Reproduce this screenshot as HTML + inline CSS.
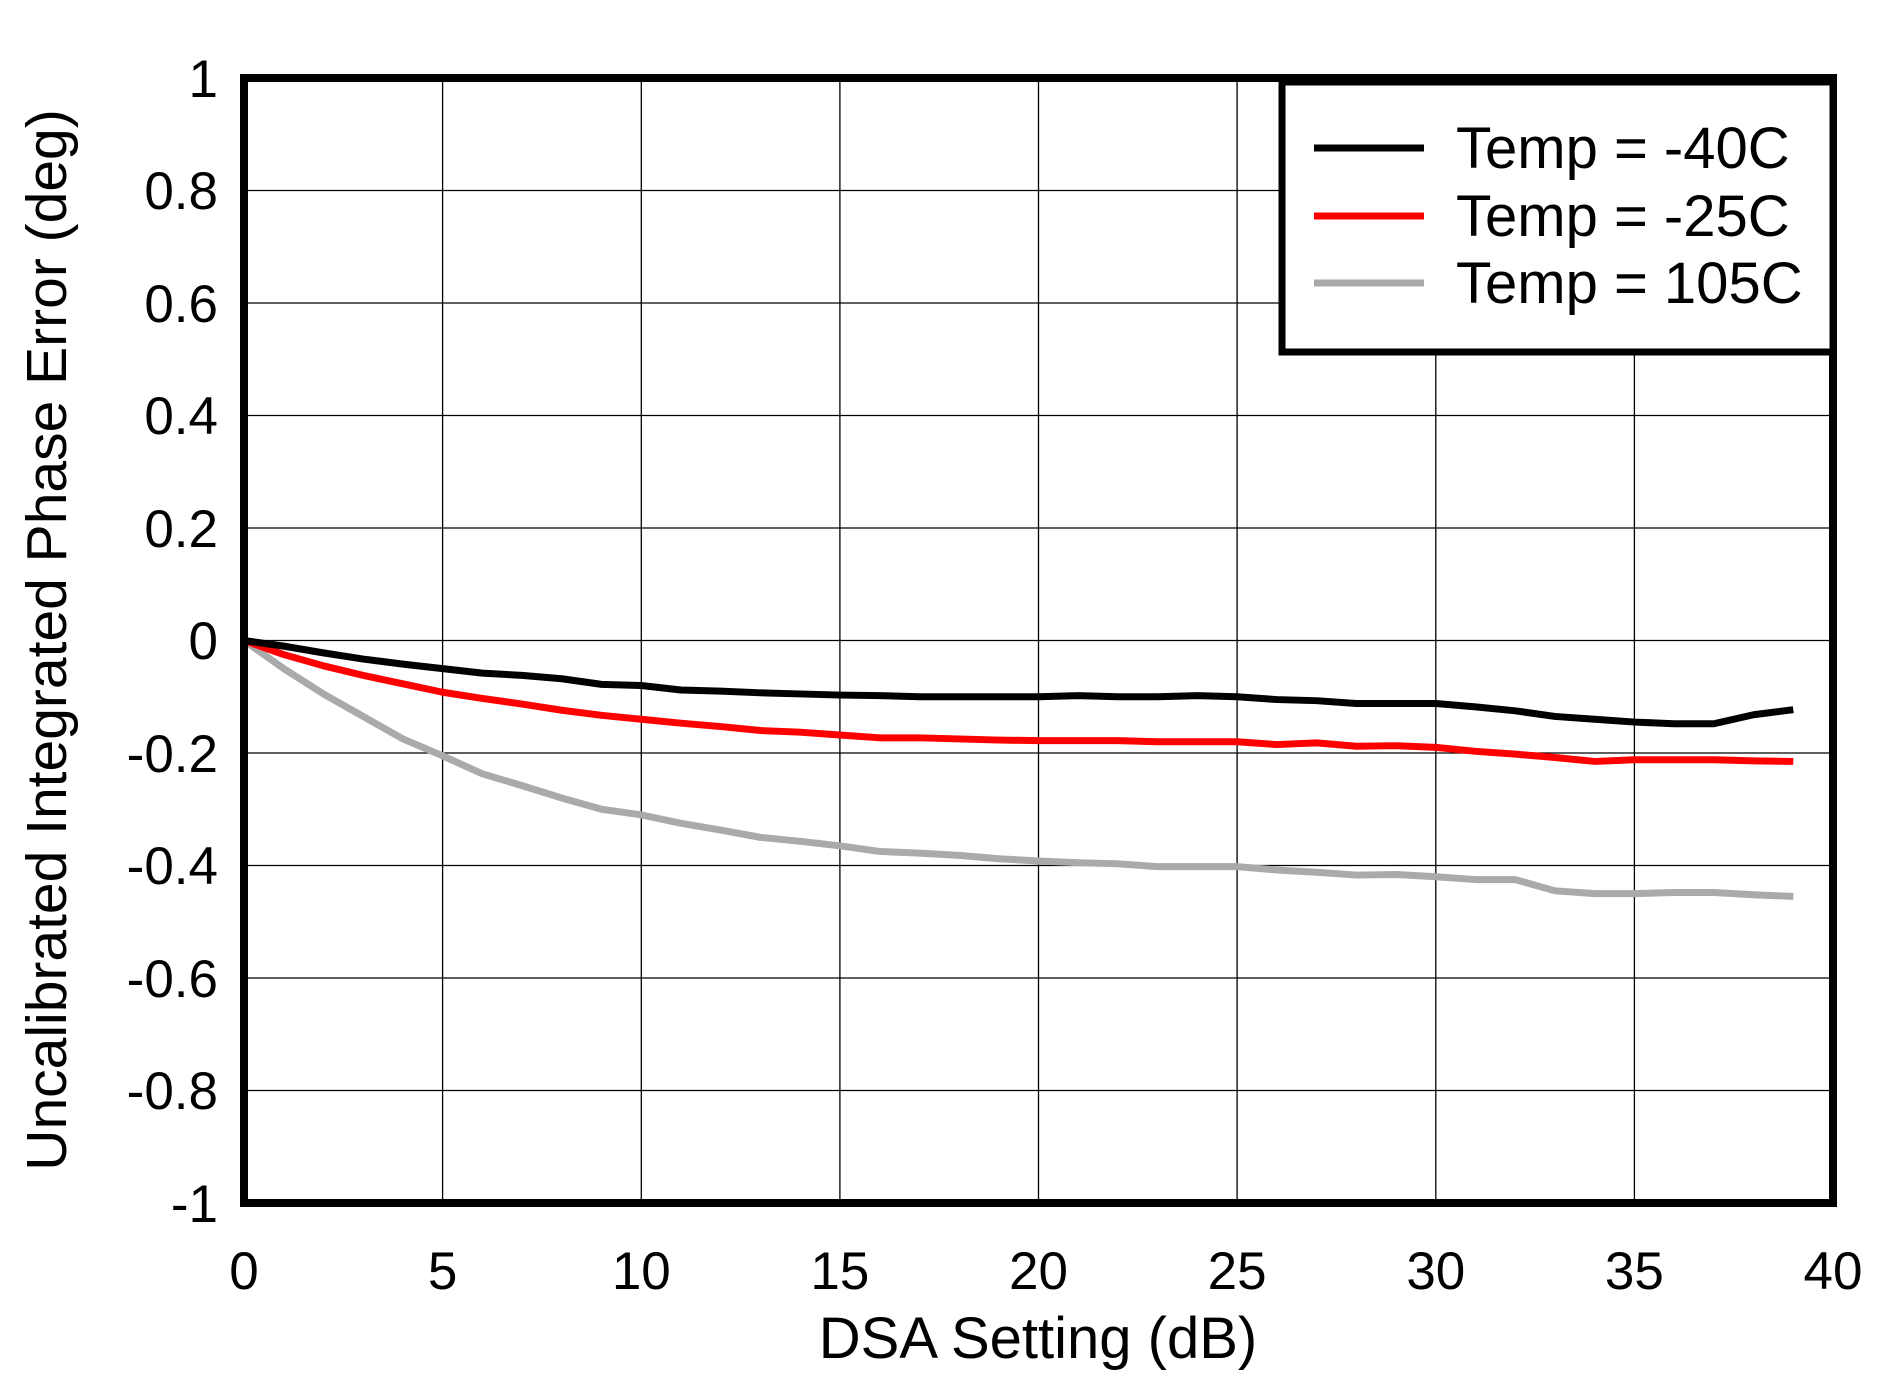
<!DOCTYPE html>
<html><head><meta charset="utf-8"><style>body{margin:0;background:#fff}svg{display:block}</style></head>
<body>
<svg width="1902" height="1382" viewBox="0 0 1902 1382" xmlns="http://www.w3.org/2000/svg" font-family="Liberation Sans, Arial, sans-serif">
<g stroke="#000" stroke-width="1.3">
<line x1="442.6" y1="78" x2="442.6" y2="1203"/><line x1="641.3" y1="78" x2="641.3" y2="1203"/>
<line x1="839.9" y1="78" x2="839.9" y2="1203"/><line x1="1038.5" y1="78" x2="1038.5" y2="1203"/>
<line x1="1237.1" y1="78" x2="1237.1" y2="1203"/><line x1="1435.8" y1="78" x2="1435.8" y2="1203"/>
<line x1="1634.4" y1="78" x2="1634.4" y2="1203"/>
<line x1="244" y1="190.5" x2="1833" y2="190.5"/><line x1="244" y1="303" x2="1833" y2="303"/>
<line x1="244" y1="415.5" x2="1833" y2="415.5"/><line x1="244" y1="528" x2="1833" y2="528"/>
<line x1="244" y1="640.5" x2="1833" y2="640.5"/><line x1="244" y1="753" x2="1833" y2="753"/>
<line x1="244" y1="865.5" x2="1833" y2="865.5"/><line x1="244" y1="978" x2="1833" y2="978"/>
<line x1="244" y1="1090.5" x2="1833" y2="1090.5"/>
</g>
<g transform="translate(244,640.5) scale(39.725,-562.5)" fill="none" stroke-linejoin="round">
<polyline vector-effect="non-scaling-stroke" stroke="#aaaaaa" stroke-width="7" points="0,0 1,-.05 2,-.095 3,-.135 4,-.175 5,-.205 6,-.237 7,-.258 8,-.28 9,-.3 10,-.31 11,-.325 12,-.337 13,-.35 14,-.357 15,-.365 16,-.375 17,-.378 18,-.382 19,-.388 20,-.392 21,-.395 22,-.397 23,-.402 24,-.402 25,-.402 26,-.408 27,-.412 28,-.417 29,-.416 30,-.42 31,-.425 32,-.425 33,-.445 34,-.45 35,-.45 36,-.448 37,-.448 38,-.452 39,-.455"/>
<polyline vector-effect="non-scaling-stroke" stroke="#ff0000" stroke-width="7" points="0,0 1,-.025 2,-.045 3,-.062 4,-.077 5,-.092 6,-.103 7,-.113 8,-.124 9,-.133 10,-.14 11,-.147 12,-.153 13,-.16 14,-.163 15,-.168 16,-.173 17,-.173 18,-.175 19,-.177 20,-.178 21,-.178 22,-.178 23,-.18 24,-.18 25,-.18 26,-.185 27,-.182 28,-.188 29,-.187 30,-.19 31,-.197 32,-.202 33,-.208 34,-.215 35,-.212 36,-.212 37,-.212 38,-.214 39,-.215"/>
<polyline vector-effect="non-scaling-stroke" stroke="#000" stroke-width="7" points="0,0 1,-.01 2,-.022 3,-.033 4,-.042 5,-.05 6,-.058 7,-.062 8,-.068 9,-.078 10,-.08 11,-.088 12,-.09 13,-.093 14,-.095 15,-.097 16,-.098 17,-.1 18,-.1 19,-.1 20,-.1 21,-.098 22,-.1 23,-.1 24,-.098 25,-.1 26,-.105 27,-.107 28,-.112 29,-.112 30,-.112 31,-.118 32,-.125 33,-.135 34,-.14 35,-.145 36,-.148 37,-.148 38,-.132 39,-.123"/>
</g>
<rect x="244" y="78" width="1589" height="1125" fill="none" stroke="#000" stroke-width="8"/>
<rect x="1282" y="82" width="551" height="270" fill="#fff" stroke="#000" stroke-width="7"/>
<line x1="1314" y1="148" x2="1424" y2="148" stroke="#000" stroke-width="7"/>
<line x1="1314" y1="216" x2="1424" y2="216" stroke="#ff0000" stroke-width="7"/>
<line x1="1314" y1="283" x2="1424" y2="283" stroke="#aaaaaa" stroke-width="7"/>
<g font-size="58" fill="#000">
<text x="1456" y="168">Temp = -40C</text>
<text x="1456" y="236">Temp = -25C</text>
<text x="1456" y="303">Temp = 105C</text>
</g>
<g font-size="53" text-anchor="end" fill="#000">
<text x="218" y="97">1</text><text x="218" y="209">0.8</text><text x="218" y="322">0.6</text>
<text x="218" y="434">0.4</text><text x="218" y="547">0.2</text><text x="218" y="659">0</text>
<text x="218" y="772">-0.2</text><text x="218" y="884">-0.4</text><text x="218" y="997">-0.6</text>
<text x="218" y="1109">-0.8</text><text x="218" y="1222">-1</text>
</g>
<g font-size="53" text-anchor="middle" fill="#000">
<text x="244" y="1289">0</text><text x="442.6" y="1289">5</text><text x="641.3" y="1289">10</text>
<text x="839.9" y="1289">15</text><text x="1038.5" y="1289">20</text><text x="1237.1" y="1289">25</text>
<text x="1435.8" y="1289">30</text><text x="1634.4" y="1289">35</text><text x="1833" y="1289">40</text>
<text x="1038" y="1358" font-size="58">DSA Setting (dB)</text>
<text transform="translate(66,640) rotate(-90)" font-size="57">Uncalibrated Integrated Phase Error (deg)</text>
</g>
</svg>
</body></html>
